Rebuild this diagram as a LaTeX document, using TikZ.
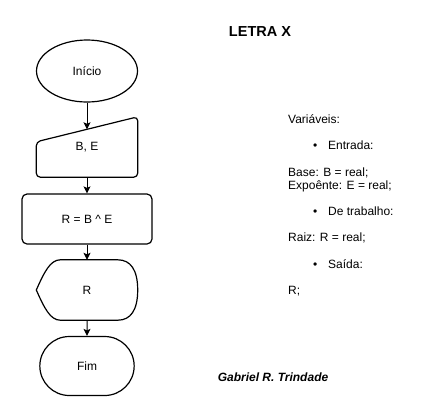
\documentclass[tikz,border=0pt]{standalone}
\usepackage{fontspec}
\setmainfont{Liberation Sans}
\usetikzlibrary{positioning,shapes,arrows.meta,calc}

\begin{document}
\begin{tikzpicture}[x=1pt, y=-1pt, font=\fontsize{12}{14}\selectfont]
    % Define styles
    \tikzset{start/.style={draw, ellipse, line width=1.2pt, minimum width=101pt, minimum height=62pt}}
    \tikzset{terminal/.style={draw, rounded rectangle, line width=1.2pt, minimum width=101pt, minimum height=59pt}}
    \tikzset{process/.style={draw, rounded corners=5pt, line width=1.2pt, minimum width=130pt, minimum height=50pt}}
    \tikzset{frame/.style={inner sep=0pt, minimum width=101pt, minimum height=60pt}}
    \tikzset{outline/.style={line width=1.2pt, rounded corners=4pt}}
    \tikzset{flow/.style={line width=1pt, -{Stealth[length=7pt, width=7pt, inset=1.5pt]}}}
    \tikzset{vartext/.style={anchor=base west, inner sep=0pt}}

    \useasboundingbox (0,0) rectangle (427,418);

    % Draw title
    \node[font=\bfseries\fontsize{14.5}{17}\selectfont] (title) at (260,32) {LETRA X};

    % Draw flowchart
    \node[start] (inicio) at (87,71) {Início};

    \node[frame] (entrada) at (87,147) {B, E};
    \draw[outline] (entrada.south west) -- ($(entrada.north west)+(0,25)$) -- (entrada.north east) -- (entrada.south east) -- cycle;
    \coordinate (entradatop) at ($(entrada.north)+(0,12.5)$);

    \node[process] (calculo) at (87,219) {R = B \textasciicircum{} E};

    \node[frame] (saida) at (87,290) {R};
    \draw[line width=1.2pt] ($(saida.north west)+(24,0)$) -- ($(saida.north east)+(-20,0)$)
        .. controls +(13,0) and +(0,-20) .. (saida.east)
        .. controls +(0,20) and +(13,0) .. ($(saida.south east)+(-20,0)$)
        -- ($(saida.south west)+(24,0)$)
        .. controls +(-10,0) and +(8,18) .. (saida.west)
        .. controls +(8,-18) and +(-10,0) .. cycle;

    \node[terminal] (fim) at (87,366) {Fim};

    % Connect the steps
    \draw[flow] (inicio) -- (entradatop);
    \draw[flow] (entrada) -- (calculo);
    \draw[flow] (calculo) -- (saida);
    \draw[flow] (saida) -- (fim);

    % Draw variable list
    \node[vartext] (vars) at (288,123) {Variáveis:};
    \node[vartext] (bul1) at (313,149) {•};
    \node[vartext] (ent) at (328,149) {Entrada:};
    \node[vartext] (base) at (288,176) {Base: B = real;};
    \node[vartext] (expo) at (288,189) {Expoênte: E = real;};
    \node[vartext] (bul2) at (313,215) {•};
    \node[vartext] (trab) at (328,215) {De trabalho:};
    \node[vartext] (raiz) at (288,241) {Raiz: R = real;};
    \node[vartext] (bul3) at (313,268) {•};
    \node[vartext] (sai) at (328,268) {Saída:};
    \node[vartext] (res) at (288,294) {R;};

    % Draw author
    \node[font=\bfseries\itshape\fontsize{12}{14}\selectfont] (author) at (273,377) {Gabriel R. Trindade};
\end{tikzpicture}
\end{document}
